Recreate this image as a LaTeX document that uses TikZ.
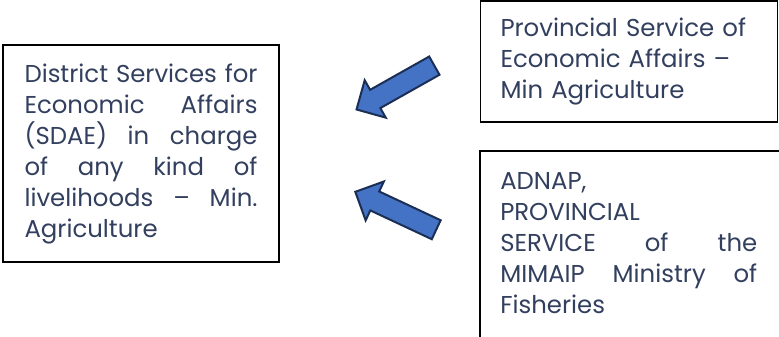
\documentclass[tikz,border=0pt]{standalone}
\usepackage{fontspec}
\setmainfont{Poppins}
\usetikzlibrary{shapes.arrows}
\definecolor{textnavy}{HTML}{323F5E}
\definecolor{arrowfill}{HTML}{4472C4}
\definecolor{arrowline}{HTML}{1B2F55}
\newcommand{\spreadline}[1]{\makebox[\hsize][s]{\spaceskip=0pt\relax #1}} % stretches one line to the full width
\tikzset{
	x=0.75pt, y=0.75pt, % one unit is one pixel of the reference
	servicetext/.style={text=textnavy, align=left, inner xsep=15pt, font=\fontsize{18.3}{23.25}\selectfont}, % text of the services
	servicebox/.style={servicetext, draw, line width=1pt}, % the boxes round the services
	bluearrow/.style={single arrow, draw=arrowline, fill=arrowfill, line width=1.5pt, inner xsep=0pt, inner ysep=7.1pt, minimum height=67pt, single arrow head extend=8.25pt}, % block arrows between the boxes
}
\begin{document}
\begin{tikzpicture}
	\path[use as bounding box, clip] (0,0) rectangle (779,336);

	\node[servicebox, text width=174.75pt, inner xsep=16.1pt, minimum height=162.75pt] (sdae) at (141,182.5)
		{\spreadline{District Services for}\\\spreadline{Economic Affairs}\\\spreadline{(SDAE) in charge}\\\spreadline{of any kind of}\\\spreadline{livelihoods – Min.}\\Agriculture};
	\node[servicebox, text width=192.75pt, minimum height=90.75pt] (dpae) at (629,274.5)
		{Provincial Service of\\Economic Affairs –\\Min Agriculture};
	\node[servicetext, anchor=north west, text width=192.75pt, inner ysep=15.75pt] (adnap) at (480,185)
		{ADNAP,\\PROVINCIAL\\\spreadline{SERVICE of the}\\\spreadline{MIMAIP Ministry of}\\Fisheries};
	\draw[line width=1pt] (adnap.north west) rectangle (790,-10);

	\node[bluearrow, rotate=209.4] (arrA) at (400,251) {};
	\node[bluearrow, rotate=154.9] (arrB) at (400.5,123) {};
\end{tikzpicture}
\end{document}
